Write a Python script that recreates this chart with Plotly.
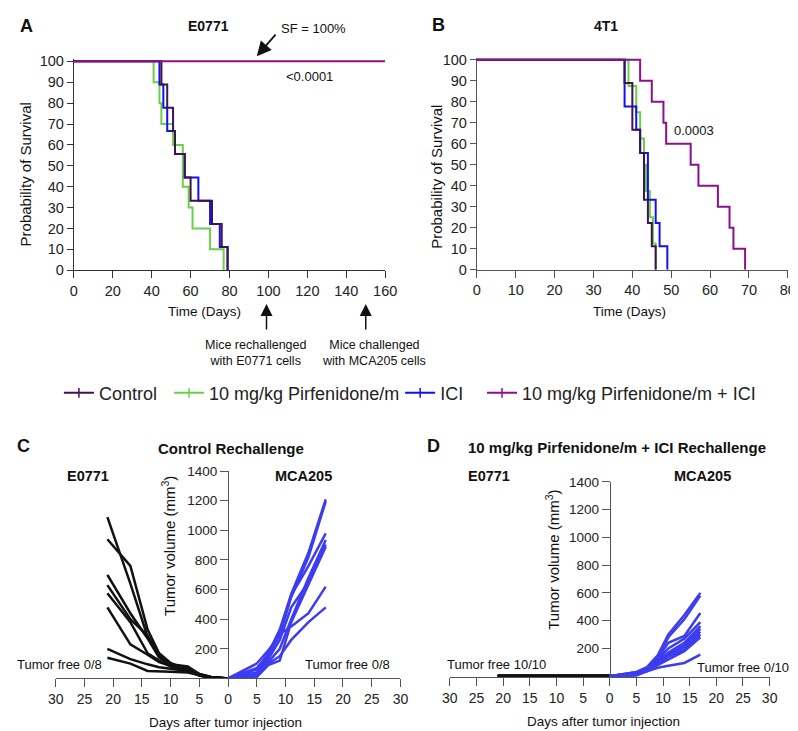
import plotly.graph_objects as go

# ---- Panel A (E0771) Kaplan-Meier steps: event day, % surviving ----
a_ctrl_days = [0, 45, 48, 51, 52, 57, 60, 71, 76, 79]
a_ctrl_surv = [100, 88.9, 77.8, 66.7, 55.6, 44.4, 33.3, 22.2, 11.1, 0]
a_pirf_days = [0, 41, 44, 45, 51, 56, 59, 61, 70, 77]
a_pirf_surv = [100, 90, 80, 70, 60, 40, 30, 20, 10, 0]
a_ici_days = [0, 44, 46, 48, 52, 57, 64, 70, 75, 79]
a_ici_surv = [100, 88.9, 77.8, 66.7, 55.6, 44.4, 33.3, 22.2, 11.1, 0]
a_combo_days = [0, 160]
a_combo_surv = [100, 100]

# ---- Panel B (4T1) ----
b_ctrl_days = [0, 38, 40, 42, 43, 44, 45, 46]
b_ctrl_surv = [100, 88.9, 66.7, 55.6, 33.3, 22.2, 11.1, 0]
b_pirf_days = [0, 39, 41, 42, 43, 43.5, 44.5, 45.3, 46]
b_pirf_surv = [100, 87.5, 75, 62.5, 50, 37.5, 25, 12.5, 0]
b_ici_days = [0, 38, 41, 42, 44, 46, 47, 49]
b_ici_surv = [100, 77.8, 66.7, 55.6, 33.3, 22.2, 11.1, 0]
b_combo_days = [0, 42, 45, 48, 48.7, 55, 57, 62, 65, 66, 69]
b_combo_surv = [100, 90, 80, 70, 60, 50, 40, 30, 20, 10, 0]

# ---- Panel C (control rechallenge), tumor volume mm3 per mouse ----
c_e0771_days = [21, 17, 14, 12, 10, 7, 5, 3, 0]
c_e0771_vol = [
    [1090, 640, 280, 150, 95, 80, 30, 10, 0],
    [940, 760, 330, 170, 105, 60, 25, 10, 0],
    [700, 440, 270, 140, 90, 55, 20, 5, 0],
    [630, 400, 290, 160, 100, 50, 20, 5, 0],
    [575, 380, 170, 120, 80, 45, 25, 5, 0],
    [480, 230, 160, 110, 85, 70, 30, 10, 0],
    [200, 130, 95, 75, 65, 50, 25, 10, 0],
    [140, 100, 50, 50, 45, 40, 20, 5, 0],
]
c_mca_days = [0, 5, 7, 9, 11, 14, 17]
c_mca_vol = [
    [0, 60, 170, 330, 570, 850, 1210],
    [0, 40, 150, 300, 550, 820, 1195],
    [0, 100, 190, 290, 560, 760, 980],
    [0, 20, 110, 200, 400, 680, 935],
    [0, 30, 130, 260, 480, 650, 905],
    [0, 10, 90, 120, 380, 640, 890],
    [0, 70, 160, 300, 350, 440, 620],
    [0, 15, 100, 150, 260, 380, 480],
]

# ---- Panel D (pirfenidone + ICI rechallenge) ----
d_e0771_days = [21, 17, 14, 12, 10, 7, 5, 3, 0]
d_e0771_vol = [
    [0, 0, 0, 0, 0, 0, 0, 0, 0],
    [0, 0, 0, 0, 0, 0, 0, 0, 0],
    [0, 0, 0, 0, 0, 0, 0, 0, 0],
    [0, 0, 0, 0, 0, 0, 0, 0, 0],
    [0, 0, 0, 0, 0, 0, 0, 0, 0],
    [0, 0, 0, 0, 0, 0, 0, 0, 0],
    [0, 0, 0, 0, 0, 0, 0, 0, 0],
    [0, 0, 0, 0, 0, 0, 0, 0, 0],
    [0, 0, 0, 0, 0, 0, 0, 0, 0],
    [0, 0, 0, 0, 0, 0, 0, 0, 0],
]
d_mca_days = [0, 5, 7, 9, 11, 14, 17]
d_mca_vol = [
    [0, 30, 65, 150, 300, 440, 600],
    [0, 25, 60, 140, 280, 410, 580],
    [0, 20, 55, 130, 240, 290, 455],
    [0, 15, 50, 120, 200, 270, 390],
    [0, 10, 45, 110, 170, 240, 360],
    [0, 25, 40, 100, 160, 220, 340],
    [0, 5, 35, 90, 150, 210, 320],
    [0, 20, 45, 95, 140, 190, 300],
    [0, 10, 40, 80, 120, 180, 280],
    [0, 15, 35, 60, 75, 95, 155],
]

group_names = ["Control", "10 mg/kg Pirfenidone/m", "ICI", "10 mg/kg Pirfenidone/m + ICI"]
group_colors = ["#3f1250", "#6ad04a", "#1010f0", "#8e0f8e"]
legend_text_x = [88, 201, 438, 522]   # where each legend label starts (px)
tumor_black = "#111111"
tumor_blue = "#3c3cf0"

FONT = "Liberation Sans, Arial, sans-serif"
W, H = 798, 731


def px(x):
    return min(1.0, max(0.0, x / W))


def py(y):
    return min(1.0, max(0.0, 1 - y / H))


fig = go.Figure()

# survival curves (draw order: green, blue, control, combo on top)
order = [1, 2, 0, 3]
a_sets = [(a_ctrl_days, a_ctrl_surv), (a_pirf_days, a_pirf_surv),
          (a_ici_days, a_ici_surv), (a_combo_days, a_combo_surv)]
b_sets = [(b_ctrl_days, b_ctrl_surv), (b_pirf_days, b_pirf_surv),
          (b_ici_days, b_ici_surv), (b_combo_days, b_combo_surv)]
for i in order:
    fig.add_trace(go.Scatter(x=a_sets[i][0], y=a_sets[i][1], mode="lines",
                             line=dict(color=group_colors[i], width=2, shape="hv"),
                             showlegend=False, xaxis="x", yaxis="y"))
for i in order:
    fig.add_trace(go.Scatter(x=b_sets[i][0], y=b_sets[i][1], mode="lines",
                             line=dict(color=group_colors[i], width=2, shape="hv"),
                             showlegend=False, xaxis="x2", yaxis="y2"))

# legend-only entries, one small legend each so they can be spaced like the original
legend_ids = ["legend", "legend2", "legend3", "legend4"]
for name, col, lid in zip(group_names, group_colors, legend_ids):
    fig.add_trace(go.Scatter(x=[None], y=[None], mode="lines+markers", name=name,
                             line=dict(color=col, width=2),
                             marker=dict(symbol="line-ns-open", size=7,
                                         line=dict(color=col, width=1.5)),
                             legend=lid, xaxis="x", yaxis="y"))

# tumor growth curves (E0771 plotted to the left of day 0)
for vol in c_e0771_vol:
    fig.add_trace(go.Scatter(x=[-d for d in c_e0771_days], y=vol, mode="lines",
                             line=dict(color=tumor_black, width=2.5),
                             showlegend=False, xaxis="x3", yaxis="y3"))
for vol in c_mca_vol:
    fig.add_trace(go.Scatter(x=c_mca_days, y=vol, mode="lines",
                             line=dict(color=tumor_blue, width=2.5),
                             showlegend=False, xaxis="x3", yaxis="y3"))
for vol in d_e0771_vol:
    fig.add_trace(go.Scatter(x=[-d for d in d_e0771_days], y=vol, mode="lines",
                             line=dict(color=tumor_black, width=2.5),
                             showlegend=False, xaxis="x4", yaxis="y4"))
for vol in d_mca_vol:
    fig.add_trace(go.Scatter(x=d_mca_days, y=vol, mode="lines",
                             line=dict(color=tumor_blue, width=2.5),
                             showlegend=False, xaxis="x4", yaxis="y4"))

axis_common = dict(showgrid=False, zeroline=False, showline=True, ticks="outside",
                   tickfont=dict(size=14.5, color="#222"))

surv_ticks = list(range(0, 101, 10))
mirror_ticks = list(range(-30, 31, 5))
mirror_text = [str(abs(t)) for t in mirror_ticks]
vol_ticks = [200, 400, 600, 800, 1000, 1200, 1400]

fig.update_layout(
    width=W, height=H,
    margin=dict(l=0, r=0, t=0, b=0),
    paper_bgcolor="white", plot_bgcolor="white",
    font=dict(family=FONT, color="#222"),
    xaxis=dict(axis_common, domain=[px(59.3), px(378.7)], range=[0, 160],
               tickvals=list(range(0, 161, 20)), anchor="y",
               linecolor="#333", tickcolor="#333", ticklen=7),
    yaxis=dict(axis_common, domain=[py(260.6), py(45.2)], range=[0, 101],
               tickvals=surv_ticks, anchor="x",
               linecolor="#333", tickcolor="#333", ticklen=6),
    xaxis2=dict(axis_common, domain=[px(472.7), px(791.7)], range=[0, 80],
                tickvals=list(range(0, 81, 10)), anchor="y2",
                linecolor="#555", tickcolor="#555", ticklen=7),
    yaxis2=dict(axis_common, domain=[py(260), py(43.6)], range=[0, 101],
                tickvals=surv_ticks, anchor="x2",
                linecolor="#555", tickcolor="#555", ticklen=6),
    xaxis3=dict(axis_common, domain=[px(40.7), px(394.3)], range=[-30, 30],
                tickvals=mirror_ticks, ticktext=mirror_text, anchor="y3",
                linecolor="#555", tickcolor="#555", ticklen=8,
                tickfont=dict(size=14, color="#222")),
    yaxis3=dict(axis_common, domain=[py(677.3), py(465.7)], range=[0, 1400],
                tickvals=vol_ticks, anchor="free", position=px(217.5),
                linecolor="#555", tickcolor="#555", ticklen=8,
                tickfont=dict(size=13.5, color="#222")),
    xaxis4=dict(axis_common, domain=[px(445), px(773)], range=[-30, 30],
                tickvals=mirror_ticks, ticktext=mirror_text, anchor="y4",
                linecolor="#555", tickcolor="#555", ticklen=8,
                tickfont=dict(size=14, color="#222")),
    yaxis4=dict(axis_common, domain=[py(676.1), py(476.7)], range=[-8, 1400],
                tickvals=vol_ticks, anchor="free", position=px(609),
                linecolor="#555", tickcolor="#555", ticklen=8,
                tickfont=dict(size=13.5, color="#222")),
)

# place each legend so its label starts where the original's does
for lid, tx in zip(legend_ids, legend_text_x):
    fig.update_layout({lid: dict(orientation="h", x=px(tx - 44), xanchor="left",
                                 y=py(386), yanchor="middle",
                                 font=dict(size=18, color="#222"),
                                 bgcolor="rgba(0,0,0,0)")})


def label(x, y, text, size=13, bold=False, angle=0):
    if bold:
        text = "<b>" + text + "</b>"
    fig.add_annotation(x=px(x), y=py(y), xref="paper", yref="paper", text=text,
                       showarrow=False, textangle=angle, xanchor="center", yanchor="middle",
                       font=dict(size=size, family=FONT, color="#111"))


# panel letters and titles
label(11, 11, "A", 18, True)
label(433, 10, "B", 18, True)
label(8, 440, "C", 18, True)
label(428, 440, "D", 18, True)
label(197, 11, "E0771", 14, True)
label(605, 11, "4T1", 14, True)
label(221, 443, "Control Rechallenge", 15, True)
label(616, 442, "10 mg/kg Pirfenidone/m + ICI Rechallenge", 15, True)
label(74, 471, "E0771", 14.5, True)
label(295, 471, "MCA205", 14.5, True)
label(485, 471, "E0771", 14.5, True)
label(704, 471, "MCA205", 14.5, True)

# axis titles
label(10, 163, "Probability of Survival", 15, angle=-90)
label(431, 165, "Probability of Survival", 15, angle=-90)
label(193, 303, "Time (Days)", 13.5)
label(629, 303, "Time (Days)", 13.5)
label(157, 542, "Tumor volume (mm<sup>3</sup>)", 15, angle=-90)
label(550, 556, "Tumor volume (mm<sup>3</sup>)", 15, angle=-90)
label(215, 722, "Days after tumor injection", 13.5)
label(603, 721, "Days after tumor injection", 13.5)

# statistics and notes
label(305, 14, "SF = 100%", 13)
label(301, 63, "&lt;0.0001", 13)
label(695, 118, "0.0003", 13)
label(246, 345, "Mice rechallenged<br>with E0771 cells", 12.5)
label(367, 345, "Mice challenged<br>with MCA205 cells", 12.5)
label(44.5, 663, "Tumor free 0/8", 13)
label(340, 663, "Tumor free 0/8", 13)
label(492.5, 663, "Tumor free 10/10", 13)
label(746, 666, "Tumor free 0/10", 13)

# arrows
fig.add_annotation(x=px(247), y=py(42), xref="paper", yref="paper", text="",
                   showarrow=True, ax=20, ay=-23, arrowhead=2, arrowsize=1.6,
                   arrowwidth=1.8, arrowcolor="#111")
for day in [99, 150]:
    fig.add_annotation(x=day, y=py(295), xref="x", yref="paper", text="",
                       showarrow=True, ax=0, ay=27, arrowhead=2, arrowsize=1.6,
                       arrowwidth=1.5, arrowcolor="#111")

fig.write_html("out.html")
